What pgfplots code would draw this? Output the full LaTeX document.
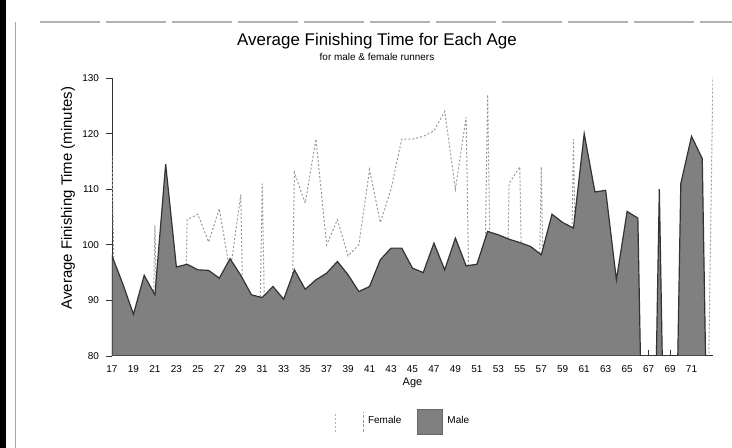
\documentclass[border=0pt]{standalone}
\usepackage{pgfplots}
\pgfplotsset{compat=1.18}
\usepackage{fontspec}
\setmainfont{Liberation Sans}
\definecolor{malefill}{gray}{0.5}
\definecolor{maleedge}{gray}{0.2}
\definecolor{femline}{gray}{0.6}
\pgfplotstableread{
age time
17 98
18 93
19 87.5
20 94.5
21 91
22 114.5
23 96
24 96.5
25 95.5
26 95.4
27 94
28 97.5
29 94.5
30 91
31 90.5
32 92.5
33 90.2
34 95.5
35 92
36 93.7
37 94.9
38 97
39 94.6
40 91.6
41 92.5
42 97.3
43 99.4
44 99.4
45 95.8
46 95
47 100.3
48 95.5
49 101.2
50 96.2
51 96.5
52 102.4
53 101.8
54 101
55 100.4
56 99.7
57 98.2
58 105.5
59 104
60 103
61 120
62 109.5
63 109.8
64 93.7
65 106
66 104.8
67 0
68 110
69 0
70 111
71 119.5
72 115.5
73 0
}\maletable
\pgfplotstableread{
age time
17 116
18 0
19 0
20 0
21 103.5
22 0
23 0
24 104.5
25 105.5
26 100.5
27 106.5
28 95
29 109
30 0
31 111
32 0
33 0
34 113
35 107.5
36 119
37 100
38 104.5
39 98
40 100
41 113.5
42 104
43 110
44 119
45 119
46 119.5
47 120.5
48 124
49 110
50 123
51 0
52 127
53 0
54 111
55 114
56 0
57 114
58 0
59 0
60 119
61 0
62 0
63 0
64 0
65 0
66 0
67 0
68 0
69 0
70 0
71 0
72 0
73 131
}\femaletable
\begin{document}
\begin{tikzpicture}
\useasboundingbox (0,0) rectangle (366bp,224bp);
\fill[black] (0,0) rectangle (3bp,224bp);
\draw[gray!70, line width=0.5bp] (7.5bp,0) -- (7.5bp,213bp);
\draw[gray!60, line width=0.6bp, dash pattern=on 30bp off 3bp] (20bp,213bp) -- (366bp,213bp);
\node[font=\fontsize{8.5}{10}\selectfont] at (188.5bp,203.5bp) {Average Finishing Time for Each Age};
\node[font=\fontsize{5}{6}\selectfont] at (188.5bp,195.5bp) {for male \& female runners};
\begin{axis}[
  at={(56bp,46bp)}, anchor=south west,
  scale only axis, width=300.5bp, height=139bp,
  xmin=17, xmax=73, ymin=80, ymax=130,
  axis lines*=left,
  axis line style={line width=0.5bp, black!80},
  xtick={17,19,...,71}, minor xtick={18,20,...,72},
  ytick={80,90,...,130},
  xtick align=inside, ytick align=outside,
  major tick length=3bp, minor tick length=2bp,
  tick style={black!80, line width=0.4bp},
  /pgf/number format/assume math mode=true,
  tick label style={font=\fontsize{5}{6}\selectfont},
  xticklabel style={yshift=-1.5bp},
  xlabel={Age},
  ylabel={Average Finishing Time (minutes)},
  xlabel style={at={(axis description cs:0.5,-0.097)}, anchor=center, font=\fontsize{5.5}{6.6}\selectfont},
  ylabel style={at={(axis description cs:-0.0732,0.568)}, anchor=center, font=\fontsize{7.5}{9}\selectfont},
  legend style={at={(axis description cs:0.486,-0.237)}, anchor=center, draw=none, fill=none,
    legend columns=-1, font=\fontsize{5}{6}\selectfont,
    /tikz/every even column/.append style={column sep=6bp}},
]
\addplot[femline, line width=0.5bp, dash pattern=on 1bp off 1bp,
  legend image code/.code={
    \draw[gray!60,line width=0.5bp] (-3bp,-5bp)--(-3bp,5bp);
    \draw[femline,line width=0.5bp,dash pattern=on 1.5bp off 0.8bp] (11bp,-5bp)--(11bp,5bp);}]
  table[x=age,y=time] {\femaletable};
\addlegendentry{Female}
\addplot[fill=malefill, draw=maleedge, line width=0.6bp,
  legend image code/.code={
    \filldraw[fill=malefill,draw=malefill!80!black] (0bp,-6.25bp) rectangle (12.5bp,6.25bp);}]
  table[x=age,y=time] {\maletable} \closedcycle;
\addlegendentry{Male}
\end{axis}
\end{tikzpicture}
\end{document}
